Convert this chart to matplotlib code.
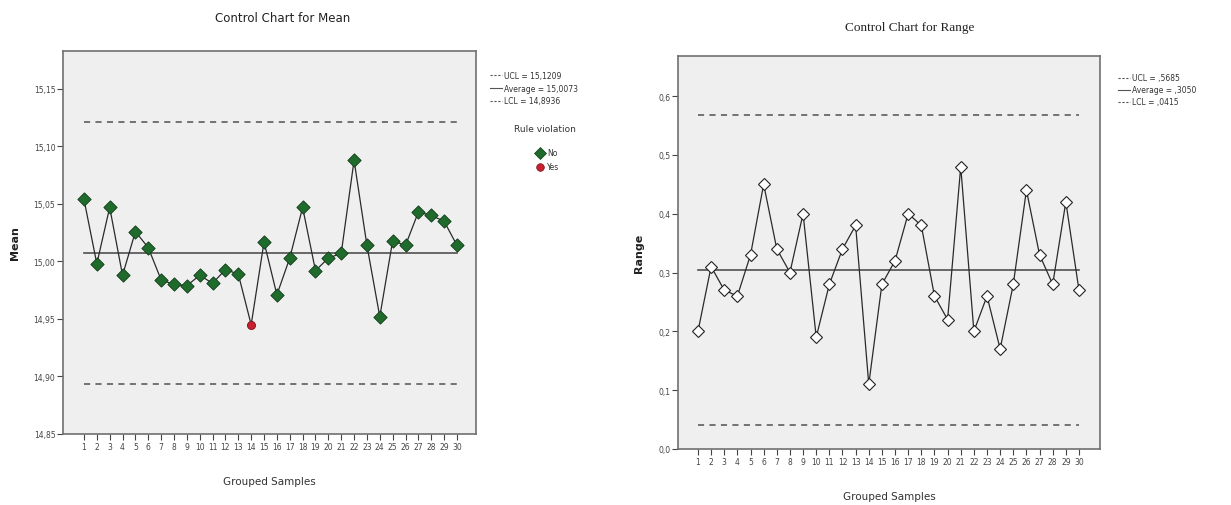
import matplotlib
matplotlib.use("Agg")
import matplotlib.pyplot as plt
from matplotlib.lines import Line2D
from matplotlib.ticker import FuncFormatter

samples = list(range(1, 31))
mean_values = [15.054, 14.998, 15.047, 14.988, 15.026, 15.012, 14.984, 14.980, 14.979, 14.988,
               14.981, 14.993, 14.989, 14.945, 15.017, 14.971, 15.003, 15.047, 14.992, 15.003,
               15.007, 15.088, 15.014, 14.952, 15.018, 15.014, 15.043, 15.040, 15.035, 15.014]
mean_violation = [s == 14 for s in samples]
mean_ucl, mean_avg, mean_lcl = 15.1209, 15.0073, 14.8936

range_values = [0.20, 0.31, 0.27, 0.26, 0.33, 0.45, 0.34, 0.30, 0.40, 0.19,
                0.28, 0.34, 0.38, 0.11, 0.28, 0.32, 0.40, 0.38, 0.26, 0.22,
                0.48, 0.20, 0.26, 0.17, 0.28, 0.44, 0.33, 0.28, 0.42, 0.27]
range_ucl, range_avg, range_lcl = 0.5685, 0.3050, 0.0415

mean_ticks = [14.85, 14.90, 14.95, 15.00, 15.05, 15.10, 15.15]
range_ticks = [0.0, 0.1, 0.2, 0.3, 0.4, 0.5, 0.6]

W, H = 1231, 506
fig = plt.figure(figsize=(W / 100, H / 100), dpi=100)
fig.patch.set_facecolor("white")

BG = "#efefef"
SPINE = "#707070"
LINE = "#2a2a2a"
LIMIT = "#505050"


def px_axes(l, r, t, b):
    return fig.add_axes([l / W, 1 - b / H, (r - l) / W, (b - t) / H])


def style(ax):
    ax.set_facecolor(BG)
    for s in ax.spines.values():
        s.set_color(SPINE)
        s.set_linewidth(1.2)
    ax.tick_params(axis="both", colors="#444444", labelsize=5.5, length=4, width=0.8,
                   direction="out", pad=1.5)
    ax.set_xticks(samples)
    ax.set_xticklabels([str(s) for s in samples], fontsize=5.5)


# ---------------- Mean chart ----------------
ax1 = px_axes(63, 476, 52, 435)
style(ax1)
ax1.plot(samples, [mean_ucl] * 30, ls=(0, (4, 3.5)), color=LIMIT, lw=1.1)
ax1.plot(samples, [mean_lcl] * 30, ls=(0, (4, 3.5)), color=LIMIT, lw=1.1)
ax1.plot(samples, [mean_avg] * 30, ls="-", color="#505050", lw=1.2)
ax1.plot(samples, mean_values, color=LINE, lw=0.9, zorder=3)
xn = [s for s, v in zip(samples, mean_violation) if not v]
yn = [m for m, v in zip(mean_values, mean_violation) if not v]
xy = [s for s, v in zip(samples, mean_violation) if v]
yy = [m for m, v in zip(mean_values, mean_violation) if v]
ax1.scatter(xn, yn, marker="D", s=46, color="#1f6b2b", edgecolor="#0f3a15", lw=0.6, zorder=4)
ax1.scatter(xy, yy, marker="o", s=34, color="#c8202e", edgecolor="#7a1018", lw=0.6, zorder=4)
ax1.set_xlim(-0.63, 31.48)
ax1.set_ylim(14.85, 15.183)
ax1.set_yticks(mean_ticks)
ax1.yaxis.set_major_formatter(FuncFormatter(lambda v, p: f"{v:.2f}".replace(".", ",")))
ax1.set_xlabel("Grouped Samples", fontsize=7.5, color="#333333", labelpad=18)
ax1.set_ylabel("Mean", fontsize=8, fontweight="bold", color="#222222", labelpad=10)
fig.text(283 / W, 1 - 18 / H, "Control Chart for Mean", ha="center", va="center",
         fontsize=8.5, color="#222222")

# ---------------- Range chart ----------------
ax2 = px_axes(678, 1100, 57, 450)
style(ax2)
ax2.plot(samples, [range_ucl] * 30, ls=(0, (4, 3.5)), color=LIMIT, lw=1.1)
ax2.plot(samples, [range_lcl] * 30, ls=(0, (4, 3.5)), color=LIMIT, lw=1.1)
ax2.plot(samples, [range_avg] * 30, ls="-", color="#505050", lw=1.2)
ax2.plot(samples, range_values, color=LINE, lw=0.9, marker="D", ms=6.5,
         mfc="white", mec="#222222", mew=0.8, zorder=3)
ax2.set_xlim(-0.52, 31.6)
ax2.set_ylim(0.0, 0.668)
ax2.set_yticks(range_ticks)
ax2.yaxis.set_major_formatter(FuncFormatter(lambda v, p: f"{v:.1f}".replace(".", ",")))
ax2.set_xlabel("Grouped Samples", fontsize=7.5, color="#333333", labelpad=18)
ax2.set_ylabel("Range", fontsize=8, fontweight="bold", color="#222222", labelpad=10)
fig.text(910 / W, 1 - 28 / H, "Control Chart for Range", ha="center", va="center",
         fontsize=9.5, color="#222222", family=["Liberation Serif", "DejaVu Serif"])


# ---------------- Legends ----------------
def legend_entry(x, y, text, dash):
    fy = 1 - y / H
    fig.add_artist(Line2D([x / W, (x + 12) / W], [fy, fy], transform=fig.transFigure,
                          color="#555555", lw=0.8, ls=dash))
    fig.text((x + 14) / W, fy, text, ha="left", va="center", fontsize=5.5, color="#333333")


legend_entry(490, 76, "UCL = 15,1209", (0, (2, 1.5)))
legend_entry(490, 89, "Average = 15,0073", "-")
legend_entry(490, 102, "LCL = 14,8936", (0, (2, 1.5)))
fig.text(545 / W, 1 - 129 / H, "Rule violation", ha="center", va="center", fontsize=6.5,
         color="#333333")
fig.add_artist(Line2D([540 / W], [1 - 154 / H], transform=fig.transFigure, marker="D", ms=6,
                      color="#1f6b2b", mec="#0f3a15", mew=0.5, ls="none"))
fig.text(547 / W, 1 - 154 / H, "No", ha="left", va="center", fontsize=5.5, color="#333333")
fig.add_artist(Line2D([540 / W], [1 - 168 / H], transform=fig.transFigure, marker="o", ms=5.5,
                      color="#c8202e", mec="#7a1018", mew=0.5, ls="none"))
fig.text(547 / W, 1 - 168 / H, "Yes", ha="left", va="center", fontsize=5.5, color="#333333")

legend_entry(1118, 79, "UCL = ,5685", (0, (2, 1.5)))
legend_entry(1118, 91, "Average = ,3050", "-")
legend_entry(1118, 103, "LCL = ,0415", (0, (2, 1.5)))

fig.savefig("out.png", dpi=100, facecolor="white")
